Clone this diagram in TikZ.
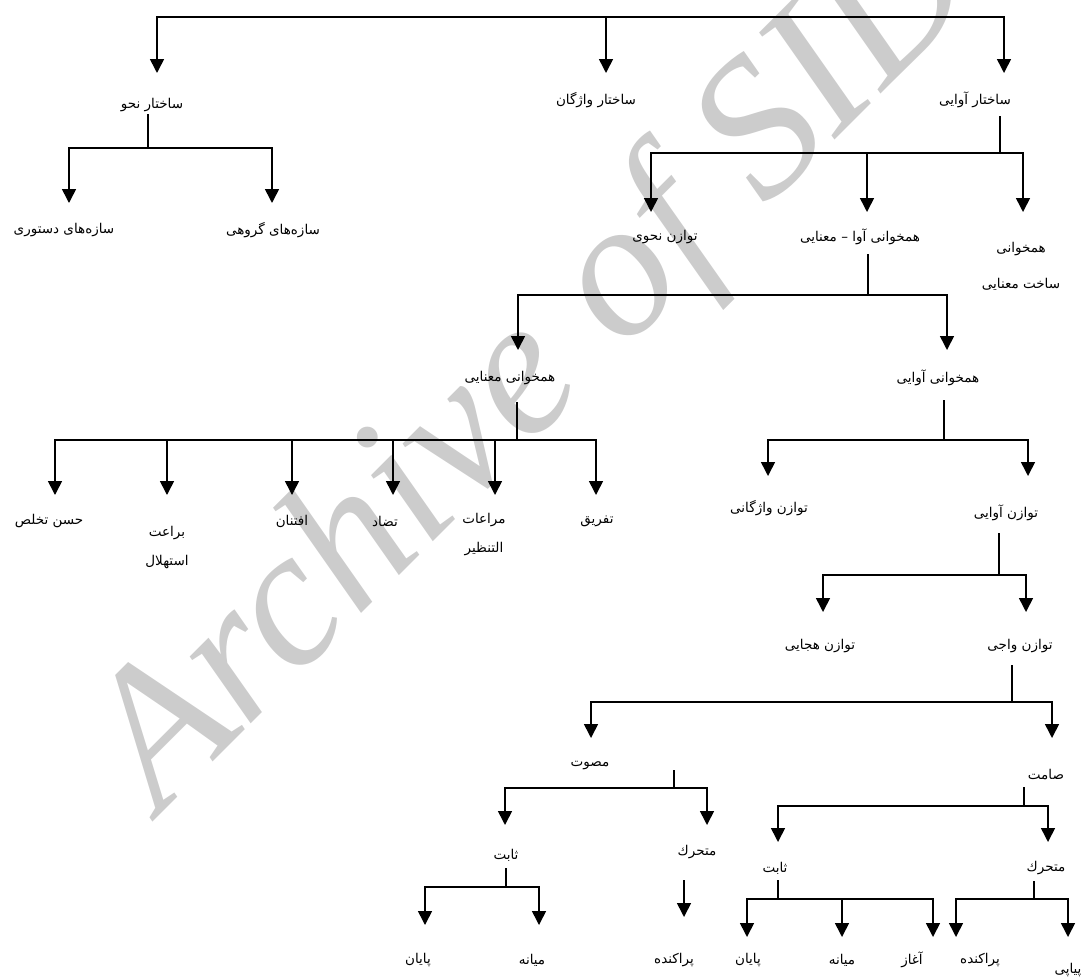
\documentclass[tikz,border=0pt]{standalone}
\usepackage{fontspec}
\TeXXeTstate=1
\newfontfamily\fa[Script=Arabic]{DejaVu Sans}
\newfontfamily\wmfont{Liberation Serif}
\usetikzlibrary{arrows.meta}
\newcommand{\fatxt}[1]{\beginR #1\endR}
\begin{document}
\begin{tikzpicture}[x=1pt,y=-1pt,
  lbl/.style={font=\fa\fontsize{13.5}{15}\selectfont, inner sep=0pt},
  lbltwo/.style={font=\fa\fontsize{13.5}{29}\selectfont, inner sep=0pt, align=center},
  lblthree/.style={font=\fa\fontsize{13.5}{36}\selectfont, inner sep=0pt, align=center},
  ln/.style={line width=1.6pt},
  arr/.style={line width=1.6pt,-{Triangle[length=14pt,width=14pt]}},
  dbl/.style={line width=1.6pt,{Triangle[length=14pt,width=14pt]}-{Triangle[length=14pt,width=14pt]}},
  wm/.style={font=\wmfont\itshape\fontsize{197}{197}\selectfont, text=black!20, inner sep=0pt}]
\useasboundingbox (0,0) rectangle (1083,977);
\begin{scope}
\clip (0,0) rectangle (1083,977);
\node[wm, anchor=base west, rotate=45] (wmark) at (160,815) {Archive of SID};
\end{scope}

% ---------- level 0 -> 1
\coordinate (top) at (0,17);
\coordinate (t1) at (157,73);
\coordinate (t2) at (606,73);
\coordinate (t3) at (1004,73);
\draw[dbl] (t1) -- (t1|-top) -- (t3|-top) -- (t3);
\draw[arr] (t2|-top) -- (t2);
\node[lbl] (n1) at (152,105) {\fatxt{ساختار نحو}};
\node[lbl] (n2) at (596,100) {\fatxt{ساختار واژگان}};
\node[lbl] (n3) at (975,100) {\fatxt{ساختار آوایی}};

% ---------- ساختار نحو
\coordinate (s1) at (148,114);
\coordinate (j1) at (148,148);
\coordinate (t11) at (69,203);
\coordinate (t12) at (272,203);
\draw[ln] (s1) -- (j1);
\draw[dbl] (t11) -- (t11|-j1) -- (t12|-j1) -- (t12);
\node[lbl] (n11) at (64,230) {\fatxt{سازه‌های دستوری}};
\node[lbl] (n12) at (273,230) {\fatxt{سازه‌های گروهی}};

% ---------- ساختار آوایی
\coordinate (s3) at (1000,116);
\coordinate (j3) at (1000,153);
\coordinate (t31) at (651,212);
\coordinate (t32) at (867,212);
\coordinate (t33) at (1023,212);
\draw[ln] (s3) -- (j3);
\draw[dbl] (t31) -- (t31|-j3) -- (t33|-j3) -- (t33);
\draw[arr] (t32|-j3) -- (t32);
\node[lbl] (n31) at (665,237) {\fatxt{توازن نحوی}};
\node[lbl] (n32) at (860,237) {\fatxt{همخوانی آوا – معنایی}};
\node[lblthree] (n33) at (1021,266) {\fatxt{همخوانی}\\\fatxt{ساخت معنایی}};

% ---------- همخوانی آوا - معنایی
\coordinate (s32) at (868,254);
\coordinate (j32) at (868,295);
\coordinate (t321) at (518,350);
\coordinate (t322) at (947,350);
\draw[ln] (s32) -- (j32);
\draw[dbl] (t321) -- (t321|-j32) -- (t322|-j32) -- (t322);
\node[lbl] (n321) at (510,378) {\fatxt{همخوانی معنایی}};
\node[lbl] (n322) at (938,378) {\fatxt{همخوانی آوایی}};

% ---------- همخوانی معنایی
\coordinate (s321) at (517,402);
\coordinate (j321) at (517,440);
\coordinate (a1t) at (55,495);
\coordinate (a2t) at (167,495);
\coordinate (a3t) at (292,495);
\coordinate (a4t) at (393,495);
\coordinate (a5t) at (495,495);
\coordinate (a6t) at (596,495);
\draw[ln] (s321) -- (j321);
\draw[dbl] (a1t) -- (a1t|-j321) -- (a6t|-j321) -- (a6t);
\foreach \t in {a2t,a3t,a4t,a5t} \draw[arr] (\t|-j321) -- (\t);
\node[lbl] (a1) at (49,521) {\fatxt{حسن تخلص}};
\node[lbltwo] (a2) at (167,548) {\fatxt{براعت}\\\fatxt{استهلال}};
\node[lbl] (a3) at (292,521) {\fatxt{افتنان}};
\node[lbl] (a4) at (385,521) {\fatxt{تضاد}};
\node[lbltwo] (a5) at (484,535) {\fatxt{مراعات}\\\fatxt{التنظیر}};
\node[lbl] (a6) at (597,521) {\fatxt{تفریق}};

% ---------- همخوانی آوایی
\coordinate (s322) at (944,400);
\coordinate (j322) at (944,440);
\coordinate (t3221) at (768,476);
\coordinate (t3222) at (1028,476);
\draw[ln] (s322) -- (j322);
\draw[dbl] (t3221) -- (t3221|-j322) -- (t3222|-j322) -- (t3222);
\node[lbl] (n3221) at (769,508) {\fatxt{توازن واژگانی}};
\node[lbl] (n3222) at (1006,513) {\fatxt{توازن آوایی}};

% ---------- توازن آوایی
\coordinate (s4) at (999,533);
\coordinate (j4) at (999,575);
\coordinate (t41) at (823,612);
\coordinate (t42) at (1026,612);
\draw[ln] (s4) -- (j4);
\draw[dbl] (t41) -- (t41|-j4) -- (t42|-j4) -- (t42);
\node[lbl] (n41) at (820,646) {\fatxt{توازن هجایی}};
\node[lbl] (n42) at (1020,646) {\fatxt{توازن واجی}};

% ---------- توازن واجی
\coordinate (s5) at (1012,665);
\coordinate (j5) at (1012,702);
\coordinate (t51) at (591,738);
\coordinate (t52) at (1052,738);
\draw[ln] (s5) -- (j5);
\draw[dbl] (t51) -- (t51|-j5) -- (t52|-j5) -- (t52);
\node[lbl] (n51) at (590,765) {\fatxt{مصوت}};
\node[lbl] (n52) at (1046,775) {\fatxt{صامت}};

% ---------- مصوت
\coordinate (s6) at (674,770);
\coordinate (j6) at (674,788);
\coordinate (t61) at (505,825);
\coordinate (t62) at (707,825);
\draw[ln] (s6) -- (j6);
\draw[dbl] (t61) -- (t61|-j6) -- (t62|-j6) -- (t62);
\node[lbl] (n61) at (506,855) {\fatxt{ثابت}};
\node[lbl] (n62) at (697,852) {\fatxt{متحرك}};

% ---------- ثابت (مصوت)
\coordinate (s7) at (506,868);
\coordinate (j7) at (506,887);
\coordinate (t71) at (425,925);
\coordinate (t72) at (539,925);
\draw[ln] (s7) -- (j7);
\draw[dbl] (t71) -- (t71|-j7) -- (t72|-j7) -- (t72);
\node[lbl] (n71) at (418,960) {\fatxt{پایان}};
\node[lbl] (n72) at (532,960) {\fatxt{میانه}};

% ---------- متحرك (مصوت)
\coordinate (s8) at (684,880);
\coordinate (t81) at (684,917);
\draw[arr] (s8) -- (t81);
\node[lbl] (n81) at (674,960) {\fatxt{پراکنده}};

% ---------- صامت
\coordinate (s9) at (1024,787);
\coordinate (j9) at (1024,806);
\coordinate (t91) at (778,842);
\coordinate (t92) at (1048,842);
\draw[ln] (s9) -- (j9);
\draw[dbl] (t91) -- (t91|-j9) -- (t92|-j9) -- (t92);
\node[lbl] (n91) at (775,868) {\fatxt{ثابت}};
\node[lbl] (n92) at (1046,868) {\fatxt{متحرك}};

% ---------- ثابت (صامت)
\coordinate (s10) at (778,880);
\coordinate (j10) at (778,899);
\coordinate (t101) at (747,937);
\coordinate (t102) at (842,937);
\coordinate (t103) at (933,937);
\draw[ln] (s10) -- (j10);
\draw[dbl] (t101) -- (t101|-j10) -- (t103|-j10) -- (t103);
\draw[arr] (t102|-j10) -- (t102);
\node[lbl] (n101) at (748,960) {\fatxt{پایان}};
\node[lbl] (n102) at (842,960) {\fatxt{میانه}};
\node[lbl] (n103) at (912,960) {\fatxt{آغاز}};

% ---------- متحرك (صامت)
\coordinate (s11) at (1034,881);
\coordinate (j11) at (1034,899);
\coordinate (t111) at (956,937);
\coordinate (t112) at (1068,937);
\draw[ln] (s11) -- (j11);
\draw[dbl] (t111) -- (t111|-j11) -- (t112|-j11) -- (t112);
\node[lbl] (n111) at (980,960) {\fatxt{پراکنده}};
\node[lbl] (n112) at (1068,970) {\fatxt{پیاپی}};
\end{tikzpicture}
\end{document}
